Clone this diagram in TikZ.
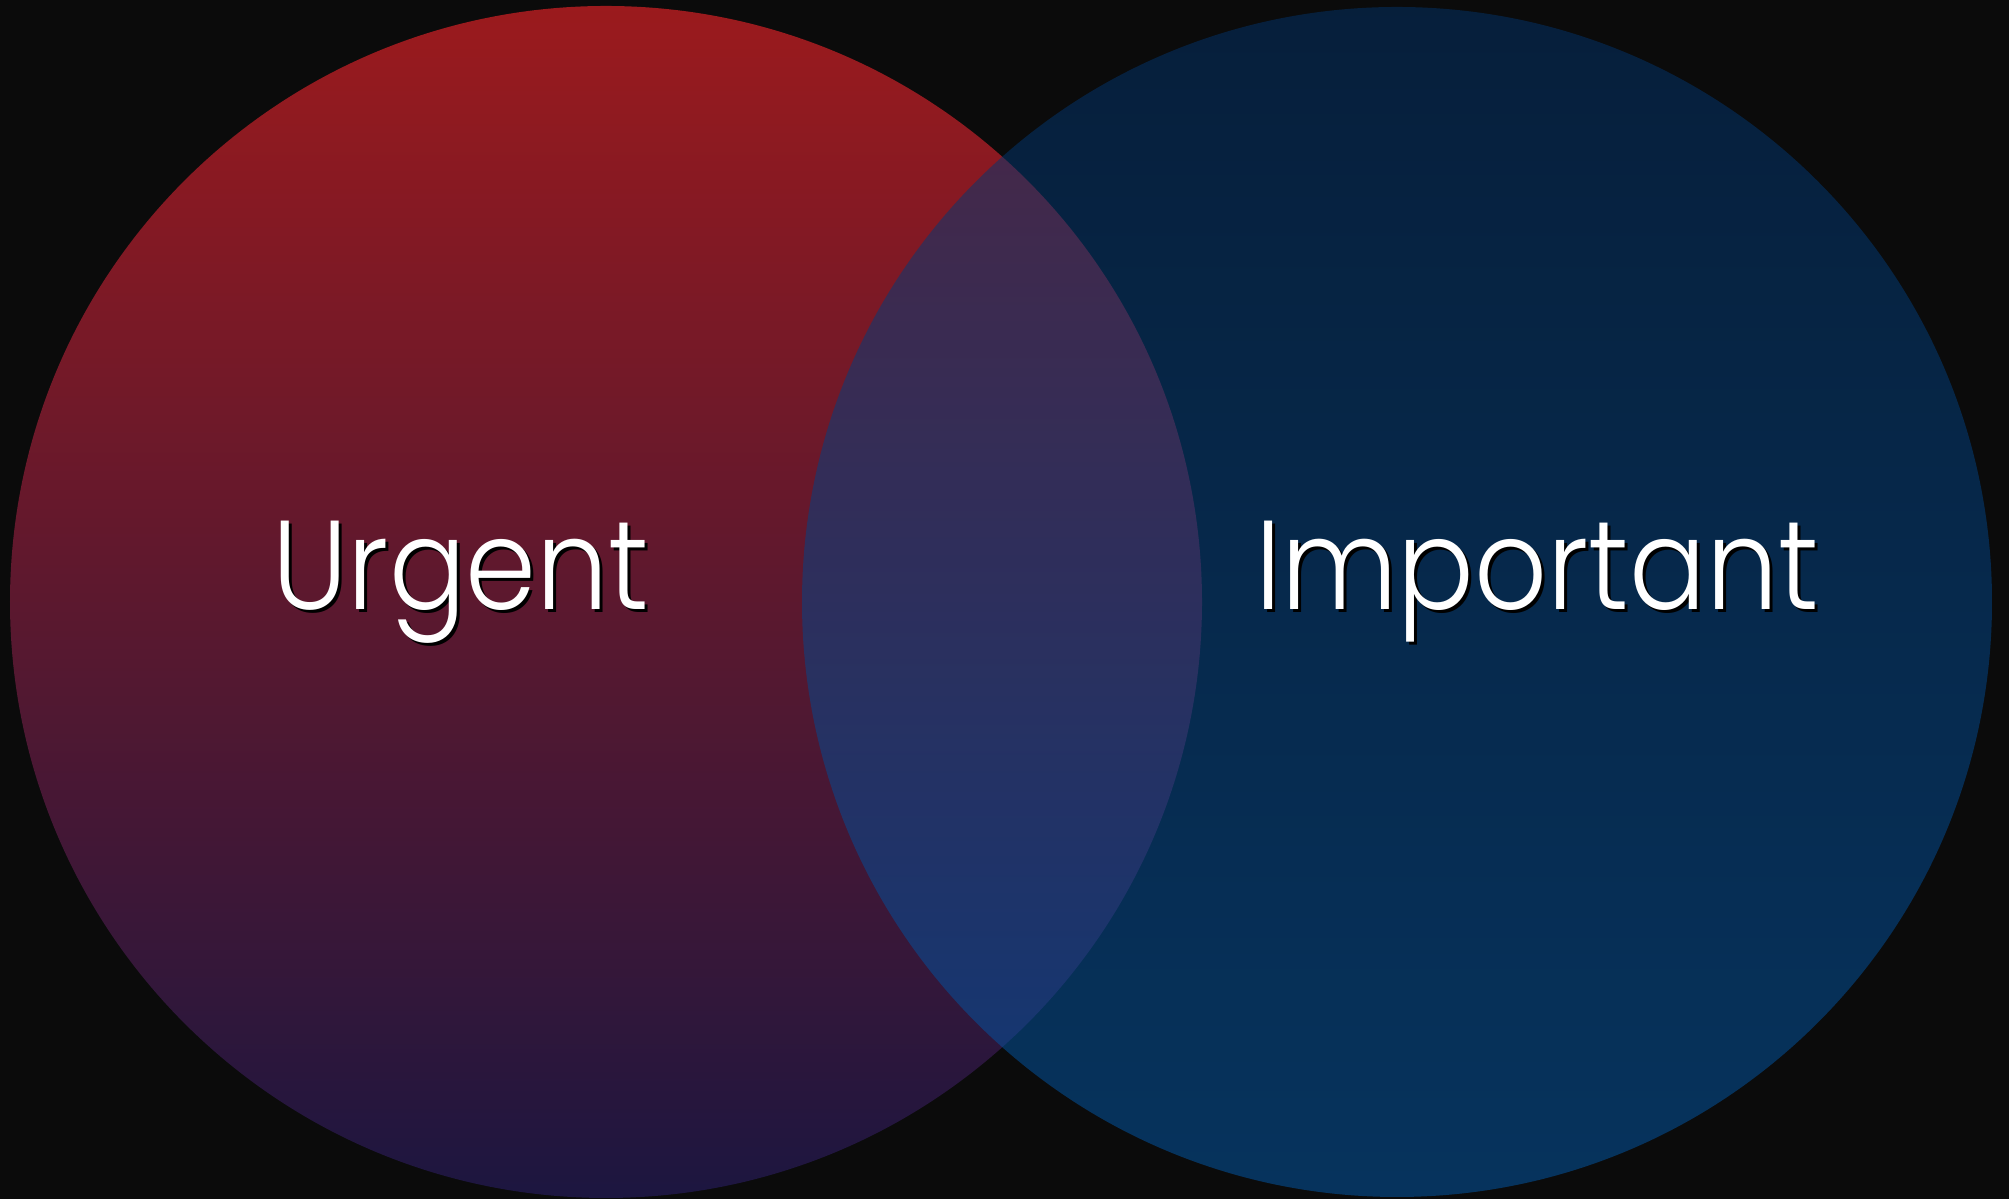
\documentclass[tikz,border=0pt]{standalone}
\usepackage{fontspec}
\newfontfamily\vennfont{Poppins}[UprightFont=* Light]
\definecolor{bgcol}{HTML}{0B0B0B}
\definecolor{urgtop}{HTML}{9B1A1D}
\definecolor{urgbot}{HTML}{1C1640}
\definecolor{imptop}{HTML}{023268}
\definecolor{impbot}{HTML}{0259AA}
\begin{document}
\begin{tikzpicture}[vennlabel/.style={font=\vennfont\fontsize{36}{40}\selectfont, text=white, anchor=base, inner sep=0pt, xscale=0.9, transform shape}]
            \fill[bgcol] (0, 0) rectangle (20.09, 11.99);
            % the two sets
            \shade[top color=urgtop, bottom color=urgbot] (6.06, 5.97) circle (5.96);
            \shade[top color=imptop, bottom color=impbot, opacity=0.52] (13.97, 5.97) circle (5.95);
            % labels, with a small drop shadow
            \node[vennlabel, text=black] (urgshadow) at (4.64, 5.86) {Urgent};
            \node[vennlabel] (urgent) at (4.61, 5.89) {Urgent};
            \node[vennlabel, text=black] (impshadow) at (15.40, 5.86) {Important};
            \node[vennlabel] (important) at (15.37, 5.89) {Important};
        \end{tikzpicture}
\end{document}
